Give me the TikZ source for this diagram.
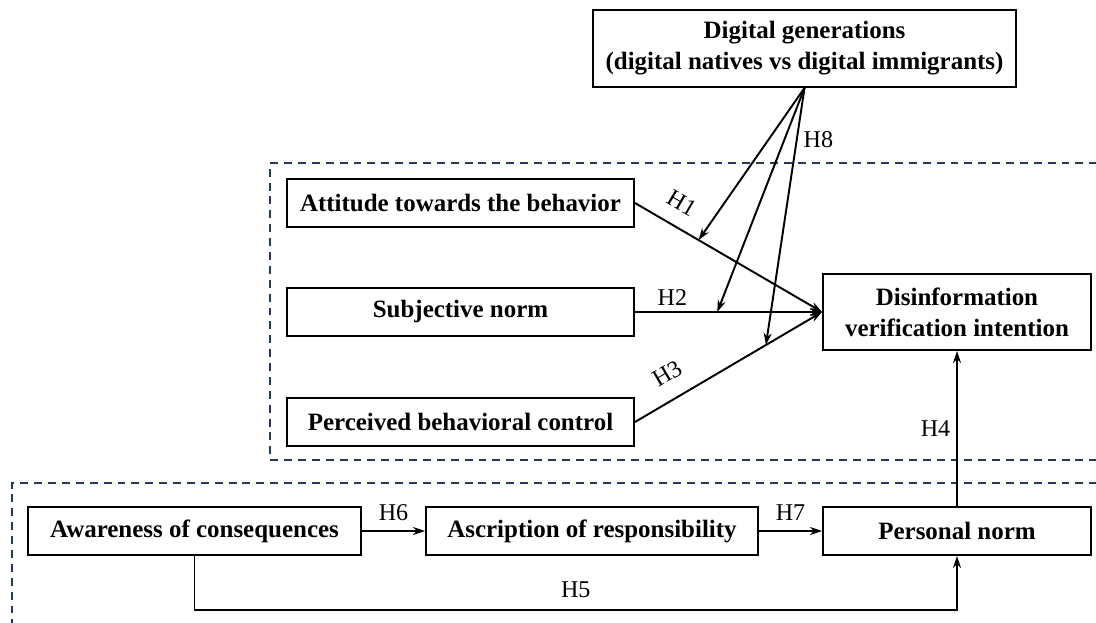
\documentclass[tikz,border=0pt]{standalone}
\usepackage{fontspec}
\setmainfont{Liberation Serif}
\usetikzlibrary{arrows.meta}
\definecolor{frameblue}{RGB}{38,56,94}
\tikzset{
	varbox/.style={draw,line width=1.1pt,inner sep=0pt,minimum height=.96cm,
		align=center,font=\fontsize{14.2}{17.6}\selectfont\bfseries},
	hyp/.style={font=\fontsize{13.7}{16}\selectfont},
	link/.style={line width=1.1pt,-{Stealth[length=2.4mm,width=1.6mm]}},
	frame/.style={frameblue,line width=1.1pt,dash pattern=on 4.5pt off 3.4pt}
}
\begin{document}
\begin{tikzpicture}
	\clip (0,0) rectangle (21.92,12.44);
	\draw[frame] (22.5,9.18) -- (5.4,9.18) -- (5.4,3.24) -- (22.5,3.24);
	\draw[frame] (22.5,2.78) -- (0.24,2.78) -- (0.24,-0.5);
	\node[varbox,minimum width=8.46cm,minimum height=1.54cm] (gen) at (16.09,11.47)
		{Digital generations\\(digital natives vs digital immigrants)};
	\node[varbox,minimum width=6.94cm] (att) at (9.21,8.38) {Attitude towards the behavior};
	\node[varbox,minimum width=6.94cm] (sub) at (9.21,6.20) {Subjective norm};
	\node[varbox,minimum width=6.94cm] (pbc) at (9.21,4.00) {Perceived behavioral control};
	\node[varbox,minimum width=5.36cm,minimum height=1.52cm] (dvi) at (19.14,6.20)
		{Disinformation\\verification intention};
	\node[varbox,minimum width=6.66cm] (ac) at (3.89,1.82) {Awareness of consequences};
	\node[varbox,minimum width=6.64cm] (ar) at (11.84,1.82) {Ascription of responsibility};
	\node[varbox,minimum width=5.36cm] (pn) at (19.14,1.82) {Personal norm};
	\draw[link] (att.east) -- node[hyp,pos=.19,above=5pt,sloped] {H1}
		coordinate[pos=.34] (m1) (dvi.west);
	\draw[link] (sub.east) -- node[hyp,pos=.2,above] {H2}
		coordinate[pos=.44] (m2) (dvi.west);
	\draw[link] (pbc.east) -- node[hyp,pos=.24,above=6pt,sloped] {H3}
		coordinate[pos=.70] (m3) (dvi.west);
	\draw[link] (pn.north) -- node[hyp,left] {H4} (dvi.south);
	\draw[link] (ac.south) -- ++(0,-1.08) -| node[hyp,pos=.25,above=3pt] {H5} (pn.south);
	\draw[link] (ac.east) -- node[hyp,above=2pt] {H6} (ar.west);
	\draw[link] (ar.east) -- node[hyp,above=2pt] {H7} (pn.west);
	\draw[link] (gen.south) -- (m1);
	\draw[link] (gen.south) -- (m2);
	\draw[link] (gen.south) -- node[hyp,pos=.2,right] {H8} (m3);
\end{tikzpicture}
\end{document}
